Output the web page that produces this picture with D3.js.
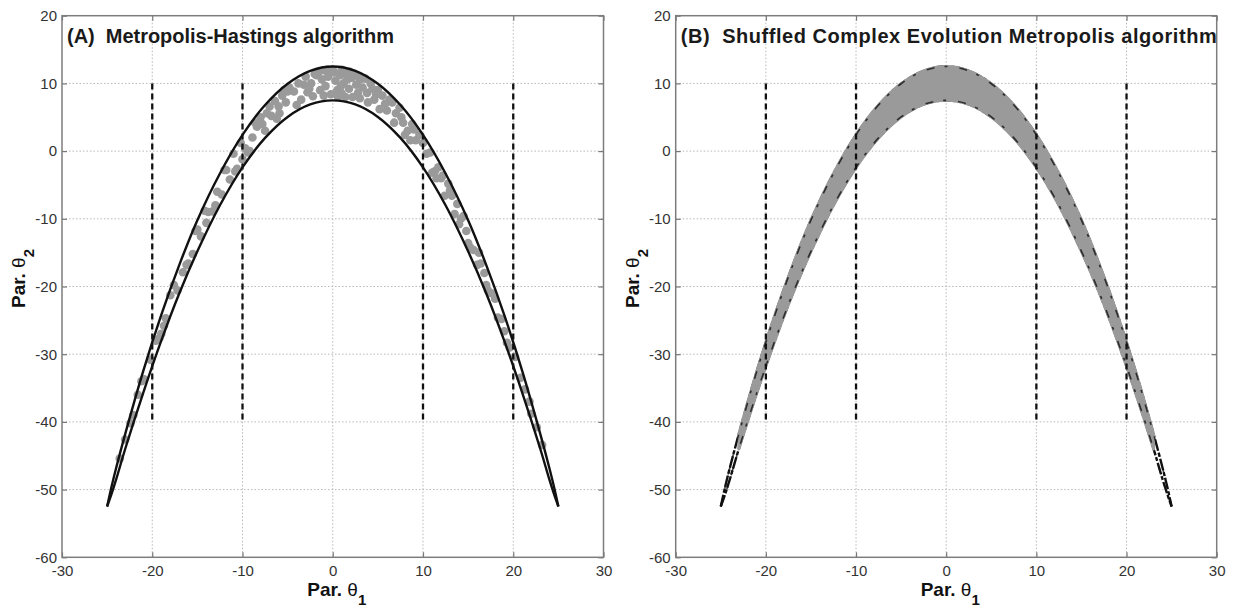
<!DOCTYPE html>
<html>
<head>
<meta charset="utf-8">
<script src="https://cdn.jsdelivr.net/npm/d3@7"></script>
<style>
    body { margin: 0; background: #fff; }
    svg { display: block; font-family: "Liberation Sans", Arial, sans-serif; }
    .tick text { font-size: 15px; fill: #333; }
    .tick line { stroke: #777; stroke-width: 1.2px; }
    .grid line { stroke: #b8b8b8; stroke-width: 1px; stroke-dasharray: 1.5,2; }
    .frame { fill: none; stroke: #7d7d7d; stroke-width: 1.5px; }
    .title { font-size: 20px; font-weight: bold; fill: #1a1a1a; white-space: pre; }
    .alabel { font-size: 19px; font-weight: bold; fill: #111; }
</style>
</head>
<body>
<svg id="chart" width="1234" height="608"></svg>
<script>
    // axis ticks
    const xTicks = [-30, -20, -10, 0, 10, 20, 30];
    const yTicks = [20, 10, 0, -10, -20, -30, -40, -50, -60];

    // outline of the target banana
    const bandTheta1 = [-25, -24.5, -24, -23, -21, -19, -17, -15, -12.5, -10, -7.5, -5, -2.5, 0,
        2.5, 5, 7.5, 10, 12.5, 15, 17, 19, 21, 23, 24, 24.5, 25];
    const bandUpper = [-52.5, -49.5, -46.8, -41.8, -32.5, -24.2, -16.8, -10.2, -3.3, 2.4, 6.8, 9.95, 11.86, 12.5,
        11.86, 9.95, 6.8, 2.4, -3.3, -10.2, -16.8, -24.2, -32.5, -41.8, -46.8, -49.5, -52.5];
    const bandLower = [-52.5, -50.6, -48.5, -44.0, -35.7, -28.0, -21.0, -14.8, -8.0, -2.4, 1.95, 5.05, 6.89, 7.5,
        6.89, 5.05, 1.95, -2.4, -8.0, -14.8, -21.0, -28.0, -35.7, -44.0, -48.5, -50.6, -52.5];

    // vertical dashed markers
    const markerTheta1 = [-20, -10, 10, 20];
    const markerSpan = [10, -40];

    // Metropolis-Hastings samples (panel A)
    const mhTheta1 = [0.2, 0.8, 1.5, -0.5, 0.3, 1.2, 2.1, 2.6, -1.2, -0.8, 0.5, 1.8, -1.8, -2.4, 3.0, 3.3, -0.2, 2.2, 1.0,
        -2.8, -3.2, 3.8, 4.2, 4.6, 5.0, 5.5, 6.0, 6.3, 7.0, 7.4, 7.8, 8.3, 8.8, 9.2,
        -3.8, -4.3, -4.8, -5.2, -5.6, -6.0, -6.4, -6.8, -7.3, -7.8, -8.4, -8.9, -9.4, -9.7, -10.2, -10.6, -11.0, -11.4,
        -11.8, -12.3, -12.8, -13.3, -13.8, -14.2, -14.6, -15.0, -15.5, -16.0, -16.6, -17.2, -18.0, -18.5, -18.7, -19.2,
        -19.6, -20.2, -20.9, -21.6, -22.1, -22.4, -23.0,
        9.6, 10.0, 10.4, 10.8, 11.0, 11.3, 11.7, 12.0, 12.4, 12.8, 13.2, 13.5, 13.8, 14.2, 14.5, 14.8, 15.2, 15.6, 16.0,
        16.4, 16.8, 17.2, 17.6, 18.0, 18.3, 18.7, 19.0, 19.3, 20.8, 21.3, 21.8, 22.6,
        0.0, 1.0, -0.6, 2.4, 3.6, -2.0, -1.4, 0.9, 1.6, 2.8, -2.6, 4.8, 5.8, 6.6, -5.0, -5.9, -3.5, 3.9, 8.0, -8.0,
        -10.0, -7.0,
        -1.0, 0.6, 1.4, 3.0, -2.2, 4.4, 5.2, 6.8, 7.6, 8.6, 9.0, -4.0, -5.4, -6.2, -7.5, -8.6, -9.2, -10.8, -12.0,
        -13.0, -14.0, -15.2, -16.2, -17.6, -19.0, -21.2, -23.6, 11.5, 12.2, 13.0, 14.0, 15.0, 16.2, 17.0, 19.6, 20.2,
        22.0, 23.2, -0.9, 1.9, -3.0, 2.9, -1.5];
    const mhTheta2 = [11.6, 11.2, 11.5, 11.0, 10.4, 10.0, 10.8, 9.8, 10.6, 9.6, 9.0, 9.2, 11.2, 10.0, 10.6, 9.4, 8.4, 8.0, 8.5,
        8.7, 9.8, 8.6, 10.0, 7.6, 9.0, 8.2, 6.0, 7.6, 5.6, 6.4, 4.2, 3.0, 4.0, 1.6,
        10.0, 8.8, 9.4, 7.2, 8.2, 6.6, 7.4, 5.2, 5.6, 4.0, 3.6, 2.0, -0.2, 0.4, 1.2, -2.6, -0.4, -4.2,
        -2.8, -6.4, -6.0, -8.9, -9.0, -8.8, -12.6, -11.6, -15.2, -16.6, -17.9, -20.6, -21.3, -24.7, -25.8, -27.6,
        -28.0, -30.8, -33.7, -36.0, -39.0, -40.2, -42.6,
        2.4, 1.2, -0.4, -0.2, -3.2, -3.0, -2.4, -4.0, -6.6, -4.8, -6.6, -9.3, -7.8, -10.0, -9.6, -11.8, -14.2, -14.6, -16.8,
        -16.6, -18.0, -20.6, -21.0, -21.8, -24.6, -24.8, -26.6, -28.3, -33.5, -35.2, -37.0, -40.8,
        12.0, 12.0, 12.0, 11.4, 10.7, 11.4, 9.0, 9.6, 10.6, 8.6, 9.2, 8.4, 7.0, 7.2, 8.8, 5.6, 7.6, 7.2, 2.4, 5.0,
        -1.2, 6.6,
        8.2, 8.0, 8.0, 7.8, 8.1, 9.2, 6.2, 4.2, 5.0, 1.6, 3.2, 6.8, 9.0, 4.8, 3.0, 4.2, 0.0, -3.0, -2.8,
        -8.0, -10.6, -11.8, -16.8, -19.8, -27.0, -34.0, -45.4, -4.0, -3.6, -5.8, -10.8, -13.6, -15.0, -19.8, -29.0, -30.4,
        -38.8, -43.4, 11.9, 11.7, 11.0, 11.0, 11.8];

    const panels = [
        {left: 62, right: 603.5, title: "(A)  Metropolis-Hastings algorithm", titleWidth: 327, kind: "points"},
        {left: 675.7, right: 1216.7, title: "(B)  Shuffled Complex Evolution Metropolis algorithm", titleWidth: 536, kind: "band"}
    ];
    const plotTop = 15.7, plotBottom = 557.3;

    const svg = d3.select("#chart");

    panels.forEach(function (p) {
        const x = d3.scaleLinear().domain([-30, 30]).range([p.left, p.right]);
        const y = d3.scaleLinear().domain([-60, 20]).range([plotBottom, plotTop]);
        const g = svg.append("g");

        // grid
        const grid = g.append("g").attr("class", "grid");
        grid.selectAll(".gx").data(xTicks.slice(1, -1)).enter().append("line")
            .attr("x1", d => x(d)).attr("x2", d => x(d))
            .attr("y1", plotTop).attr("y2", plotBottom);
        grid.selectAll(".gy").data(yTicks.slice(1, -1)).enter().append("line")
            .attr("x1", p.left).attr("x2", p.right)
            .attr("y1", d => y(d)).attr("y2", d => y(d));

        const band = bandTheta1.map((t, i) => ({t: t, hi: bandUpper[i], lo: bandLower[i]}));
        const upperLine = d3.line().x(d => x(d.t)).y(d => y(d.hi)).curve(d3.curveCatmullRom);
        const lowerLine = d3.line().x(d => x(d.t)).y(d => y(d.lo)).curve(d3.curveCatmullRom);

        if (p.kind === "points") {
            const pts = mhTheta1.map((t, i) => [t, mhTheta2[i]]);
            g.selectAll("circle").data(pts).enter().append("circle")
                .attr("cx", d => x(d[0])).attr("cy", d => y(d[1]))
                .attr("r", 4.3).style("fill", "#9a9a9a");
            [upperLine, lowerLine].forEach(function (ln) {
                g.append("path").datum(band).attr("d", ln)
                    .style("fill", "none").style("stroke", "#111").style("stroke-width", 2.4);
            });
        } else {
            const area = d3.area().x(d => x(d.t)).y0(d => y(d.lo)).y1(d => y(d.hi)).curve(d3.curveCatmullRom);
            const inner = band.filter(d => Math.abs(d.t) <= 23);
            [upperLine, lowerLine].forEach(function (ln) {
                g.append("path").datum(band).attr("d", ln)
                    .style("fill", "none").style("stroke", "#111").style("stroke-width", 2.4)
                    .style("stroke-dasharray", "12,2,4,2");
            });
            g.append("path").datum(inner).attr("d", area)
                .style("fill", "#9a9a9a").style("stroke", "#9a9a9a").style("stroke-width", 3)
                .style("stroke-linejoin", "round");
            [upperLine, lowerLine].forEach(function (ln) {
                g.append("path").datum(band).attr("d", ln)
                    .style("fill", "none").style("stroke", "#111").style("stroke-width", 1.6)
                    .style("stroke-dasharray", "8,10,3,12").style("opacity", 0.8);
            });
        }

        // dashed markers
        g.selectAll(".marker").data(markerTheta1).enter().append("line")
            .attr("x1", d => x(d)).attr("x2", d => x(d))
            .attr("y1", y(markerSpan[0])).attr("y2", y(markerSpan[1]))
            .style("stroke", "#111").style("stroke-width", 2.3).style("stroke-dasharray", "6,4");

        // axes (ticks inside the box, MATLAB style)
        const fmt = d => String(d);
        g.append("g").attr("transform", `translate(0,${plotBottom})`)
            .call(d3.axisBottom(x).tickValues(xTicks).tickFormat(fmt).tickSizeInner(-5).tickSizeOuter(0).tickPadding(8))
            .call(a => a.select(".domain").remove());
        g.append("g").attr("transform", `translate(${p.left},0)`)
            .call(d3.axisLeft(y).tickValues(yTicks).tickFormat(fmt).tickSizeInner(-5).tickSizeOuter(0).tickPadding(5))
            .call(a => a.select(".domain").remove());
        g.append("g").attr("transform", `translate(0,${plotTop})`)
            .call(d3.axisTop(x).tickValues(xTicks).tickSizeInner(-5).tickSizeOuter(0).tickFormat(""))
            .call(a => a.select(".domain").remove());
        g.append("g").attr("transform", `translate(${p.right},0)`)
            .call(d3.axisRight(y).tickValues(yTicks).tickSizeInner(-5).tickSizeOuter(0).tickFormat(""))
            .call(a => a.select(".domain").remove());

        g.append("rect").attr("class", "frame")
            .attr("x", p.left).attr("y", plotTop)
            .attr("width", p.right - p.left).attr("height", plotBottom - plotTop);

        g.append("text").attr("class", "title")
            .attr("x", p.left + 5).attr("y", plotTop + 27)
            .attr("textLength", p.titleWidth).attr("lengthAdjust", "spacing")
            .text(p.title);

        // axis labels
        const xl = g.append("text").attr("class", "alabel")
            .attr("x", (p.left + p.right) / 2 + 4).attr("y", 596).attr("text-anchor", "middle");
        xl.append("tspan").text("Par. ");
        xl.append("tspan").style("font-weight", "normal").text("θ");
        xl.append("tspan").attr("dy", 9).style("font-size", "15px").text("1");

        const yl = g.append("text").attr("class", "alabel")
            .attr("transform", `translate(${p.left - 37},${(plotTop + plotBottom) / 2 - 8}) rotate(-90)`)
            .attr("text-anchor", "middle");
        yl.append("tspan").text("Par. ");
        yl.append("tspan").style("font-weight", "normal").text("θ");
        yl.append("tspan").attr("dy", 9).style("font-size", "15px").text("2");
    });
</script>
</body>
</html>
